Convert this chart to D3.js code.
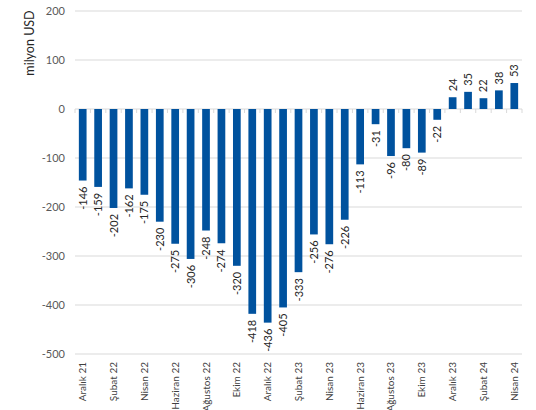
<!DOCTYPE html>
<html>
<head>
<meta charset="utf-8">
<script src="https://cdn.jsdelivr.net/npm/d3@7"></script>
<style>
  html, body { margin: 0; padding: 0; background: #fff; }
  svg { display: block; font-family: Lato, "Open Sans", sans-serif; }
</style>
</head>
<body>
<svg id="chart" width="536" height="410"></svg>
<script>
// Monthly balance, Dec 2021 – Apr 2024 (million USD)
const months = [
  "Aralık 21", "Ocak 22", "Şubat 22", "Mart 22", "Nisan 22", "Mayıs 22",
  "Haziran 22", "Temmuz 22", "Ağustos 22", "Eylül 22", "Ekim 22", "Kasım 22",
  "Aralık 22", "Ocak 23", "Şubat 23", "Mart 23", "Nisan 23", "Mayıs 23",
  "Haziran 23", "Temmuz 23", "Ağustos 23", "Eylül 23", "Ekim 23", "Kasım 23",
  "Aralık 23", "Ocak 24", "Şubat 24", "Mart 24", "Nisan 24"
];
const values = [
  -146, -159, -202, -162, -175, -230, -275, -306, -248, -274, -320, -418,
  -436, -405, -333, -256, -276, -226, -113, -31, -96, -80, -89, -22,
  24, 35, 22, 38, 53
];
const yTicks = [200, 100, 0, -100, -200, -300, -400, -500];
const yTitle = "milyon USD";

const svg = d3.select("#chart");
const plotLeft = 75, plotRight = 522, plotTop = 11, plotBottom = 354;

const x = d3.scaleBand().domain(months).range([plotLeft, plotRight]).paddingInner(0.5).paddingOuter(0.25);
const y = d3.scaleLinear().domain([-500, 200]).range([plotBottom, plotTop]);

// gridlines
svg.append("g").selectAll("line").data(yTicks.filter(d => d !== 0)).join("line")
  .attr("x1", plotLeft).attr("x2", plotRight)
  .attr("y1", d => y(d)).attr("y2", d => y(d))
  .attr("stroke", "#d9d9d9").attr("stroke-width", 1);

// y tick labels
svg.append("g").selectAll("text").data(yTicks).join("text")
  .attr("x", 65).attr("y", d => y(d)).attr("dy", "0.35em")
  .attr("text-anchor", "end").attr("font-size", 11).attr("fill", "#595959")
  .text(d => d);

// y axis title
svg.append("text")
  .attr("transform", `translate(34,43) rotate(-90)`)
  .attr("text-anchor", "middle").attr("font-size", 12.5).attr("fill", "#262626")
  .text(yTitle);

// zero line with category ticks
const step = (plotRight - plotLeft) / months.length;
const zero = svg.append("g");
zero.append("line").attr("x1", plotLeft).attr("x2", plotRight)
  .attr("y1", y(0)).attr("y2", y(0)).attr("stroke", "#d9d9d9");
zero.selectAll("line.tk").data(d3.range(months.length + 1)).join("line")
  .attr("class", "tk")
  .attr("x1", i => plotLeft + i * step).attr("x2", i => plotLeft + i * step)
  .attr("y1", y(0)).attr("y2", y(0) + 4)
  .attr("stroke", "#d9d9d9");

// bars
svg.append("g").selectAll("rect").data(values).join("rect")
  .attr("x", (d, i) => x(months[i]))
  .attr("width", x.bandwidth())
  .attr("y", d => Math.min(y(d), y(0)))
  .attr("height", d => Math.abs(y(d) - y(0)))
  .attr("fill", "#00529e");

// value labels
svg.append("g").selectAll("text").data(values).join("text")
  .attr("transform", (d, i) => {
    const cx = x(months[i]) + x.bandwidth() / 2 + 4;
    const cy = d < 0 ? y(d) + 6 : y(d) - 6;
    return `translate(${cx},${cy}) rotate(-90)`;
  })
  .attr("text-anchor", d => d < 0 ? "end" : "start")
  .attr("font-size", 11).attr("fill", "#262626")
  .text(d => d);

// category labels (every other month)
svg.append("g").selectAll("text").data(months.filter((m, i) => i % 2 === 0)).join("text")
  .attr("transform", m => `translate(${x(m) + x.bandwidth() / 2 + 3.5},362) rotate(-90)`)
  .attr("text-anchor", "end").attr("font-size", 10).attr("fill", "#404040")
  .text(m => m);
</script>
</body>
</html>
